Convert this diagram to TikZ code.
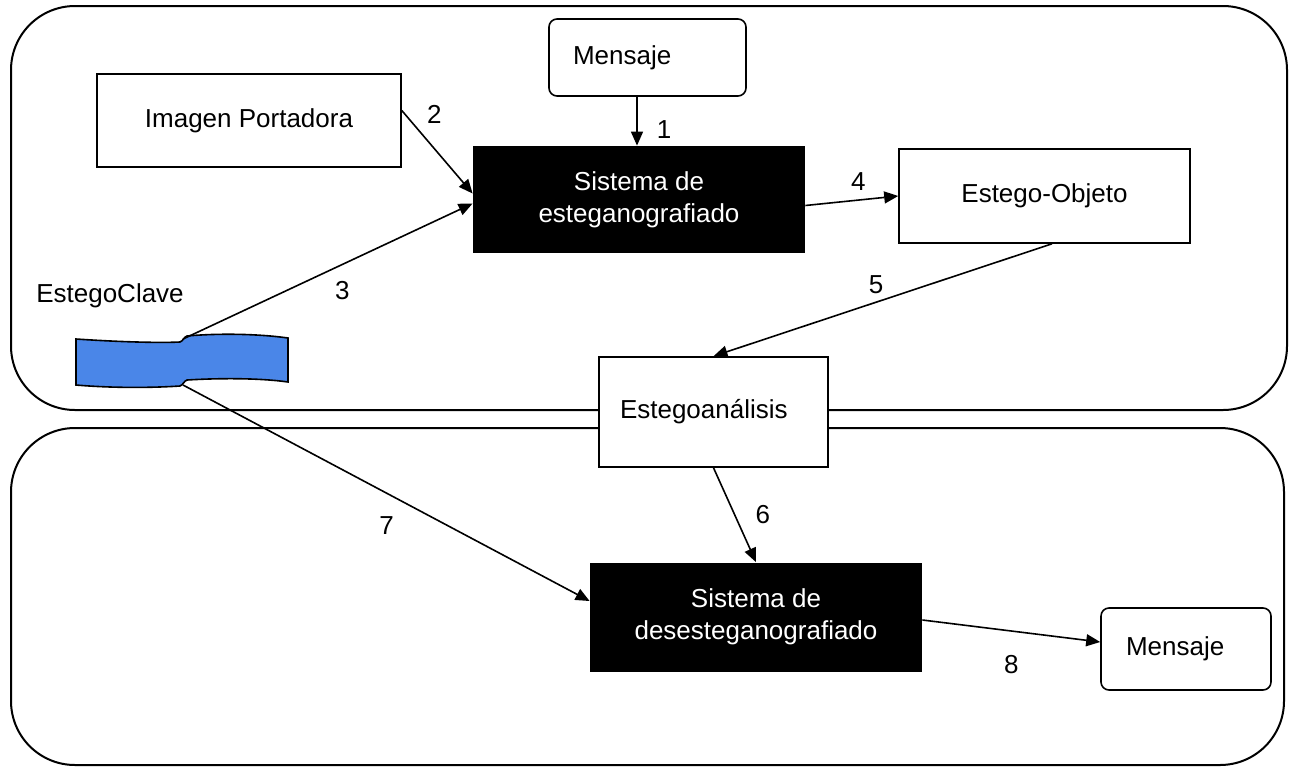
\documentclass[tikz,border=0pt]{standalone}
\usepackage{fontspec}
\setmainfont{Liberation Sans}
\usetikzlibrary{arrows.meta}
\definecolor{keyblue}{HTML}{4A86E8}
\tikzset{b/.style={draw,line width=0.8pt,fill=white,align=center}}
\tikzset{s/.style={fill=black,text=white,align=center}}
\tikzset{r/.style={draw,line width=0.8pt,rounded corners=4pt,fill=white,align=left}}
\tikzset{a/.style={-{Triangle[length=7pt,width=6pt]},line width=0.8pt}}
\tikzset{l/.style={inner sep=0pt}}

\begin{document}
\begin{tikzpicture}[x=0.5pt,y=-0.5pt,every node/.style={font=\fontsize{13}{16}\selectfont}]
          \useasboundingbox (0,0) rectangle (1290,766);
          % the two frames
          \draw[line width=1pt,rounded corners=32pt] (11,6) rectangle (1287,410);
          \draw[line width=1pt,rounded corners=32pt] (11,428) rectangle (1284,765);
          \node[r,text width=74.5pt,inner xsep=12pt,minimum height=38.5pt] (msg1) at (647.5,57.5) {Mensaje};
          \node[b,minimum width=152pt,minimum height=46.5pt] (img) at (249,120.5) {Imagen Portadora};
          \node[s,minimum width=166pt,minimum height=53.5pt] (sis1) at (639,199.5) {Sistema de\\esteganografiado};
          \node[b,minimum width=145.5pt,minimum height=47pt] (obj) at (1044.5,196) {Estego-Objeto};
          \node[b,text width=93.5pt,inner xsep=10.5pt,minimum height=55pt,align=left] (ana) at (713.5,412) {Estegoanálisis};
          \node[s,minimum width=166pt,minimum height=54.5pt] (sis2) at (756,617) {Sistema de\\desesteganografiado};
          \node[r,text width=60pt,inner xsep=12.5pt,minimum height=41pt] (msg2) at (1186,649) {Mensaje};
          \node (kname) at (110,296) {EstegoClave};
          % the key
          \draw[fill=keyblue,line width=0.8pt] (76,339) .. controls (120,342) and (160,343) .. (180,342)
            .. controls (183,341) and (184,337) .. (187,336) .. controls (220,333) and (260,334) .. (288,338)
            -- (288,382) .. controls (260,378) and (220,378) .. (187,380)
            .. controls (184,381) and (183,385) .. (180,386) .. controls (150,388) and (110,388) .. (76,385) -- cycle;
          \coordinate (ktop) at (183,339);
          \coordinate (kbot) at (183,385);
          % numbered arrows
          \draw[a] ([xshift=-1pt]msg1.south -| sis1.north) -- node[l,pos=0.68,right=9.5pt] {1} ([xshift=-1pt]sis1.north);
          \draw[a] ([yshift=5pt]img.east) -- node[l,pos=0.05,right=10.5pt] {2} ([yshift=3pt]sis1.west);
          \draw[a] (ktop) -- node[l,pos=0.55,below=8pt] {3} ([yshift=-2pt]sis1.west);
          \draw[a] ([yshift=-3pt]sis1.east) -- node[l,pos=0.57,above=4.4pt] {4} (obj.west);
          \draw[a] ([xshift=3.75pt]obj.south) -- node[l,pos=0.52,above=3.75pt] {5} (ana.north);
          \draw[a] (ana.south) -- node[l,pos=0.5,right=10pt] {6} (sis2.north);
          \draw[a] (kbot) -- node[l,pos=0.55,below left=6pt] {7} ([yshift=8pt]sis2.west);
          \draw[a] ([yshift=-1.5pt]sis2.east) -- node[l,pos=0.5,below=12pt] {8} ([yshift=3.5pt]msg2.west);
        \end{tikzpicture}
\end{document}
